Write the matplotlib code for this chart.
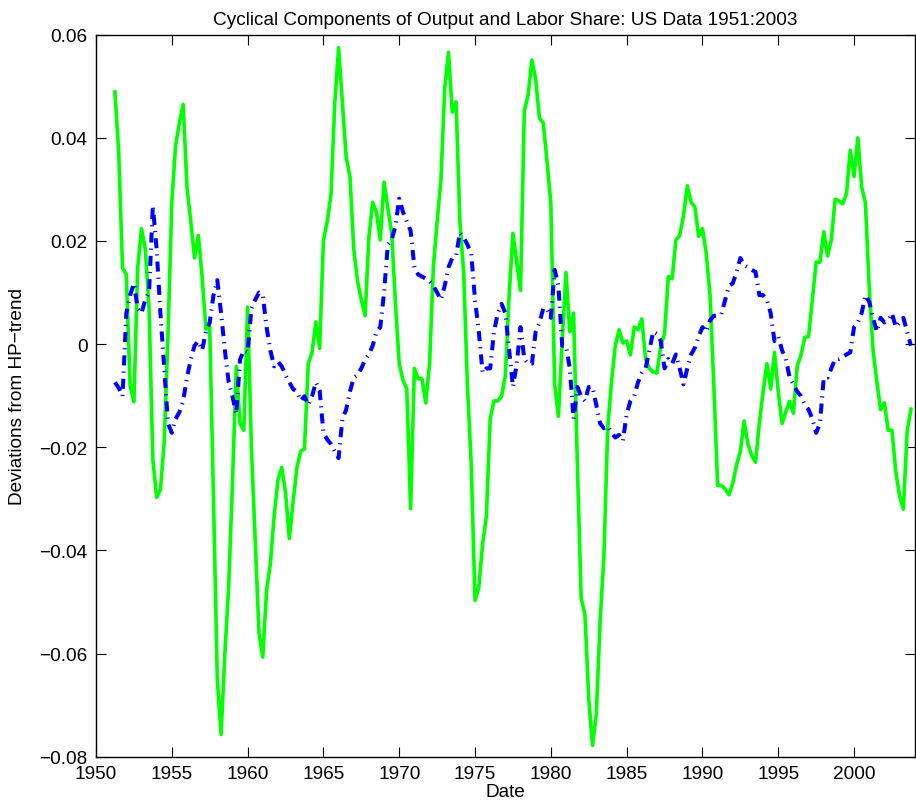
import numpy as np
import matplotlib
matplotlib.use("Agg")
import matplotlib.pyplot as plt

plt.rcParams['font.family'] = ['Liberation Sans', 'DejaVu Sans']

start_year = 1951.25   # first quarter shown
step = 0.25            # quarterly data

output_cycle = [
    0.0489, 0.037, 0.0148, 0.0135, -0.008, -0.0112, 0.0148, 0.0224, 0.0185, 0.0069,
    -0.0224, -0.0297, -0.0282, -0.019, 0.002, 0.0275, 0.0385, 0.0429, 0.0465, 0.0305,
    0.0238, 0.0167, 0.0211, 0.0131, 0.0029, 0.0033, -0.030, -0.065, -0.0757, -0.060,
    -0.047, -0.027, -0.0043, -0.0154, -0.0167, 0.0072, -0.020, -0.038, -0.056, -0.0607,
    -0.0478, -0.0426, -0.0333, -0.0264, -0.0239, -0.0288, -0.0377, -0.0306, -0.024, -0.0208,
    -0.0203, -0.0038, -0.0016, 0.0043, -0.0008, 0.0201, 0.0237, 0.029, 0.0468, 0.0575,
    0.047, 0.0363, 0.0325, 0.0185, 0.0122, 0.0086, 0.0055, 0.0208, 0.0275, 0.0256,
    0.0202, 0.0314, 0.0264, 0.0216, 0.008, -0.0038, -0.007, -0.0087, -0.0319, -0.0047,
    -0.0067, -0.0067, -0.0114, -0.0038, 0.0149, 0.0238, 0.0318, 0.0496, 0.0566, 0.045,
    0.047, 0.0238, 0.014, -0.0082, -0.0234, -0.0497, -0.0471, -0.0388, -0.0333, -0.0145,
    -0.011, -0.011, -0.0101, -0.0061, 0.0095, 0.0215, 0.0158, 0.0104, 0.0452, 0.0483,
    0.0551, 0.0514, 0.0438, 0.0429, 0.0354, 0.0273, -0.0078, -0.014, 0.0006, 0.0139,
    0.0024, 0.006, -0.0234, -0.0493, -0.0524, -0.0688, -0.0778, -0.0717, -0.0537, -0.0412,
    -0.0163, -0.0074, -0.0003, 0.0028, 0.0002, 0.0006, -0.0021, 0.0033, 0.0028, 0.0049,
    -0.0029, -0.0047, -0.0054, -0.0056, -0.0003, 0.002, 0.0131, 0.0127, 0.0202, 0.0211,
    0.0249, 0.0307, 0.0275, 0.0266, 0.0209, 0.0224, 0.0176, 0.0095, -0.008, -0.0274,
    -0.0274, -0.0281, -0.0292, -0.027, -0.0234, -0.0208, -0.0149, -0.0194, -0.0216, -0.0229,
    -0.0154, -0.0092, -0.0038, -0.0087, -0.0016, -0.0092, -0.0154, -0.0131, -0.0111, -0.0134,
    -0.0043, -0.0021, 0.0013, 0.0015, 0.0086, 0.0159, 0.0159, 0.0218, 0.0171, 0.0202,
    0.0281, 0.0278, 0.0272, 0.0292, 0.0376, 0.0325, 0.040, 0.0305, 0.0274, 0.0109,
    -0.0011, -0.0072, -0.0127, -0.0114, -0.0167, -0.0167, -0.0247, -0.0294, -0.032, -0.017,
    -0.0126,
]

labor_share_cycle = [
    -0.0074, -0.0085, -0.0101, 0.006, 0.0095, 0.0118, 0.0069, 0.006, 0.0086, 0.010,
    0.0269, 0.0184, 0.006, -0.0047, -0.0154, -0.0172, -0.0145, -0.0132, -0.011, -0.0065,
    -0.003, -0.0003, 0.0006, -0.0012, 0.0024, 0.0042, 0.0095, 0.0124, 0.006, -0.0012,
    -0.0074, -0.0101, -0.0136, -0.003, -0.0012, -0.0016, 0.0069, 0.0086, 0.010, 0.0095,
    0.0033, -0.0012, -0.0043, -0.0034, -0.0043, -0.006, -0.0074, -0.0087, -0.0092, -0.011,
    -0.0101, -0.0118, -0.0101, -0.0074, -0.009, -0.0172, -0.0185, -0.0194, -0.0208, -0.0221,
    -0.0145, -0.0127, -0.0092, -0.0065, -0.006, -0.0047, -0.003, -0.002, -0.0003, 0.0024,
    0.0033, 0.010, 0.0193, 0.0202, 0.0229, 0.0282, 0.0256, 0.0238, 0.022, 0.0149,
    0.0135, 0.0131, 0.0127, 0.0122, 0.0113, 0.010, 0.0086, 0.0113, 0.0149, 0.0167,
    0.0171, 0.0216, 0.0207, 0.0193, 0.0175, 0.0086, 0.0024, -0.0056, -0.0047, -0.0047,
    0.0024, 0.006, 0.0078, 0.006, -0.0012, -0.0083, -0.0038, 0.0033, -0.0029, -0.0038,
    -0.0038, 0.0024, 0.0042, 0.0069, 0.0069, 0.0051, 0.0144, 0.0113, -0.0003, -0.0003,
    -0.0047, -0.0145, -0.0083, -0.0101, -0.011, -0.0083, -0.0083, -0.0118, -0.0154, -0.0163,
    -0.0159, -0.0172, -0.0181, -0.0176, -0.0188, -0.0136, -0.011, -0.0101, -0.0074, -0.0056,
    -0.0047, -0.0012, 0.0024, 0.002, 0.0006, -0.0047, -0.0029, -0.0038, -0.002, -0.0047,
    -0.0078, -0.0047, -0.002, -0.0007, 0.0015, 0.0033, 0.0024, 0.0046, 0.0055, 0.0055,
    0.0058, 0.0086, 0.0113, 0.0118, 0.014, 0.0167, 0.0153, 0.0149, 0.0144, 0.014,
    0.0095, 0.0095, 0.0086, 0.006, 0.0006, 0.0015, -0.0012, -0.0029, -0.0065, -0.0078,
    -0.0092, -0.0101, -0.0118, -0.0127, -0.0145, -0.0172, -0.0154, -0.0065, -0.0065, -0.0047,
    -0.0029, -0.0029, -0.0025, -0.002, -0.0016, 0.0033, 0.0042, 0.006, 0.0095, 0.0082,
    0.0051, 0.0024, 0.0051, 0.0042, 0.0046, 0.006, 0.0033, 0.0042, 0.0051, 0.0024,
    -0.0003,
]

x_ticks = [1950, 1955, 1960, 1965, 1970, 1975, 1980, 1985, 1990, 1995, 2000]
y_ticks = [-0.08, -0.06, -0.04, -0.02, 0, 0.02, 0.04, 0.06]
y_tick_labels = ['\u22120.08', '\u22120.06', '\u22120.04', '\u22120.02', '0', '0.02', '0.04', '0.06']

dates = start_year + step * np.arange(len(output_cycle))

fig = plt.figure(figsize=(9.16, 8.12), dpi=100)
ax = fig.add_axes([0.1048, 0.0669, 0.8938, 0.8891])

ax.plot(dates, output_cycle, color=(0, 1, 0), lw=2.6)
ax.plot(dates, labor_share_cycle, color=(0, 0, 1), lw=2.9,
        linestyle=(0, (2.5, 1.5, 0.3, 1.5)))

ax.set_xlim(1950, 2004)
ax.set_ylim(-0.08, 0.06)
ax.set_xticks(x_ticks)
ax.set_xticklabels([str(t) for t in x_ticks])
ax.set_yticks(y_ticks)
ax.set_yticklabels(y_tick_labels)

ax.tick_params(direction='in', top=True, right=True, length=7.5, width=0.8,
               labelsize=13.7, pad=6)
for s in ax.spines.values():
    s.set_linewidth(1.0)

ax.set_title('Cyclical Components of Output and Labor Share: US Data 1951:2003',
             fontsize=13.7, pad=8)
ax.set_xlabel('Date', fontsize=13.7, labelpad=1)
ax.set_ylabel('Deviations from HP\u2212trend', fontsize=13.7, labelpad=10)

fig.savefig('out.png', dpi=100)
